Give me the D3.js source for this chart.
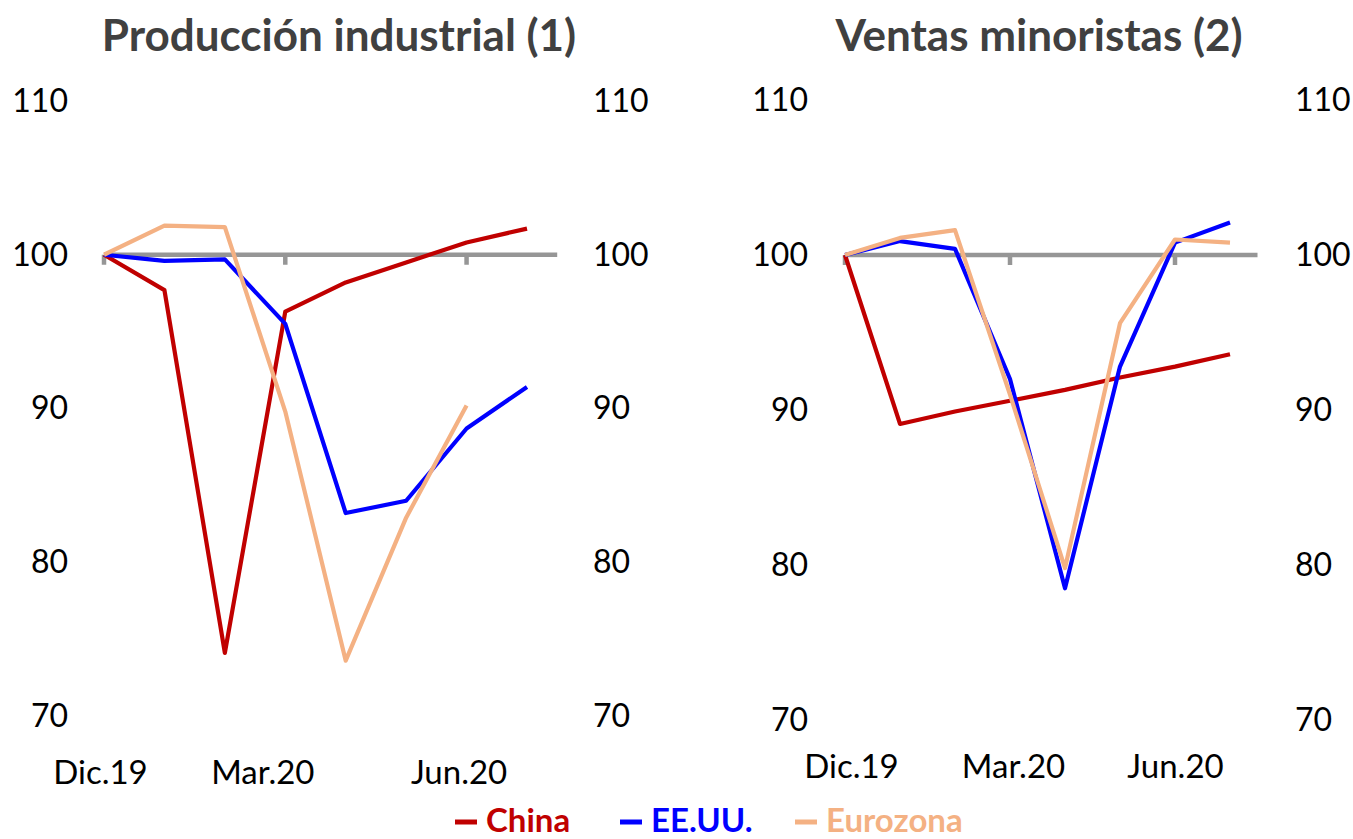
<!DOCTYPE html>
<html>
<head>
<meta charset="utf-8">
<script src="https://cdn.jsdelivr.net/npm/d3@7"></script>
<style>
  body { margin: 0; background: #fff; }
  svg { display: block; font-family: Lato, "Open Sans", sans-serif; }
</style>
</head>
<body>
<svg id="chart" width="1353" height="839"></svg>
<script>
// meses (dic.19 - jul.20)
const months = ["Dic.19", "Ene.20", "Feb.20", "Mar.20", "Abr.20", "May.20", "Jun.20", "Jul.20"];
const xTickMonths = ["Dic.19", "Mar.20", "Jun.20"];
const yTicks = [70, 80, 90, 100, 110];

// Producción industrial (1)
const indChina = [100, 97.7, 74.1, 96.3, 98.2, 99.5, 100.8, 101.7];
const indEEUU = [100, 99.6, 99.7, 95.5, 83.2, 84.0, 88.7, 91.4];
const indEuro = [100, 101.9, 101.8, 89.8, 73.6, 82.9, 90.2, null];

// Ventas minoristas (2)
const retChina = [100, 89.1, 89.9, 90.6, 91.3, 92.1, 92.8, 93.6];
const retEEUU = [100, 100.9, 100.4, 92.0, 78.5, 92.8, 100.8, 102.1];
const retEuro = [100, 101.1, 101.6, 91.0, 79.8, 95.6, 101.0, 100.8];

const seriesNames = ["China", "EE.UU.", "Eurozona"];
const colors = { "China": "#C00000", "EE.UU.": "#0000FF", "Eurozona": "#F4B183" };

const svg = d3.select("#chart");

function drawPanel(opts) {
  const x = d3.scalePoint().domain(months).range(opts.xRange);
  const y = d3.scaleLinear().domain([70, 110]).range(opts.yRange);
  const step = x.step();

  svg.append("text")
    .attr("x", opts.titleX).attr("y", 51)
    .attr("text-anchor", "middle")
    .attr("font-size", 44).attr("font-weight", "bold")
    .attr("fill", "#404040")
    .text(opts.title);

  // ejes y (izq. y der.)
  const yl = svg.append("g")
    .attr("transform", `translate(${opts.yLeftX},0)`)
    .call(d3.axisLeft(y).tickValues(yTicks).tickSize(0).tickPadding(0));
  const yr = svg.append("g")
    .attr("transform", `translate(${opts.yRightX},0)`)
    .call(d3.axisRight(y).tickValues(yTicks).tickSize(0).tickPadding(0));
  [yl, yr].forEach(g => {
    g.select(".domain").remove();
    g.selectAll("text").attr("font-size", 32).attr("fill", "#000").attr("font-family", "Lato, sans-serif");
  });

  // linea base en 100 con marcas
  const base = svg.append("g").attr("transform", `translate(0,${y(100)})`);
  base.append("line")
    .attr("x1", x(months[0])).attr("x2", x(months[months.length - 1]) + step / 2)
    .attr("stroke", "#969696").attr("stroke-width", 4.5);
  base.selectAll(".tk").data(xTickMonths).enter().append("line")
    .attr("x1", d => x(d)).attr("x2", d => x(d))
    .attr("y1", 0).attr("y2", 10)
    .attr("stroke", "#969696").attr("stroke-width", 4.5);

  // etiquetas del eje x
  const xl = svg.append("g")
    .attr("transform", `translate(0,${opts.xLabelY})`)
    .call(d3.axisBottom(x).tickValues(xTickMonths).tickSize(0).tickPadding(0));
  xl.select(".domain").remove();
  xl.selectAll("text")
    .attr("font-size", 33).attr("fill", "#000").attr("font-family", "Lato, sans-serif")
    .attr("dx", (d, i) => opts.labelDx[i]);

  const line = d3.line()
    .defined(d => d.v != null)
    .x(d => x(d.m)).y(d => y(d.v));

  opts.series.forEach((vals, i) => {
    const data = months.map((m, j) => ({ m: m, v: vals[j] }));
    svg.append("path")
      .datum(data)
      .attr("d", line)
      .attr("fill", "none")
      .attr("stroke", colors[seriesNames[i]])
      .attr("stroke-width", 4.2)
      .attr("stroke-linejoin", "round");
  });
}

drawPanel({
  title: "Producción industrial (1)", titleX: 339,
  xRange: [104, 527], yRange: [716, 101],
  yLeftX: 68, yRightX: 593,
  xLabelY: 761, labelDx: [-4, -23, -8],
  series: [indChina, indEEUU, indEuro]
});

drawPanel({
  title: "Ventas minoristas (2)", titleX: 1039,
  xRange: [845, 1230], yRange: [720, 100],
  yLeftX: 808, yRightX: 1295,
  xLabelY: 755, labelDx: [6, 3, 0],
  series: [retChina, retEEUU, retEuro]
});

// leyenda
const legendX = [455, 620, 795];
const leg = svg.append("g").attr("transform", "translate(0,822)");
seriesNames.forEach((name, i) => {
  const g = leg.append("g").attr("transform", `translate(${legendX[i]},0)`);
  g.append("line").attr("x1", 0).attr("x2", 22).attr("y1", 0).attr("y2", 0)
    .attr("stroke", colors[name]).attr("stroke-width", 5);
  g.append("text").attr("x", 31).attr("y", 10)
    .attr("font-size", 33).attr("font-weight", "bold")
    .attr("fill", colors[name])
    .text(name);
});
</script>
</body>
</html>
